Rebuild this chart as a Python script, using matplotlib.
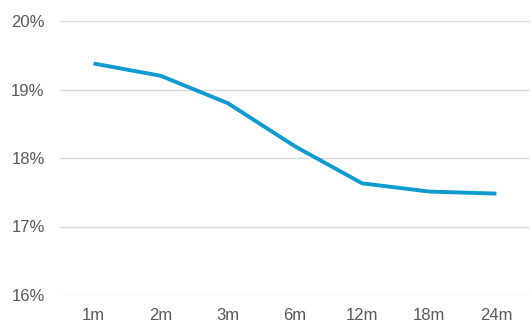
import matplotlib.pyplot as plt
from matplotlib.ticker import FuncFormatter

plt.rcParams['font.family'] = ['Liberation Sans', 'DejaVu Sans']

# data
tenors = ['1m', '2m', '3m', '6m', '12m', '18m', '24m']
rates = [19.38, 19.20, 18.80, 18.17, 17.63, 17.51, 17.48]
yticks = [16, 17, 18, 19, 20]

fig = plt.figure(figsize=(5.31, 3.22), dpi=100)
ax = fig.add_axes([60/531, 1 - 295/322, 470/531, 274/322])

x = range(len(tenors))
ax.plot(x, rates, color='#0E9BCF', linewidth=2.8, solid_capstyle='butt')

ax.set_xlim(-0.5, len(tenors) - 0.5)
ax.set_ylim(16, 20)
ax.set_xticks(list(x))
ax.set_xticklabels(tenors)
ax.set_yticks(yticks)
ax.yaxis.set_major_formatter(FuncFormatter(lambda v, p: '%d%%' % v))

ax.grid(axis='y', color='#D9D9D9', linewidth=1)
ax.set_axisbelow(True)
for s in ax.spines.values():
    s.set_visible(False)
ax.tick_params(length=0, labelsize=12, colors='#595959')
ax.tick_params(axis='y', pad=11)
ax.tick_params(axis='x', pad=9)

fig.savefig('out.png', dpi=100)
